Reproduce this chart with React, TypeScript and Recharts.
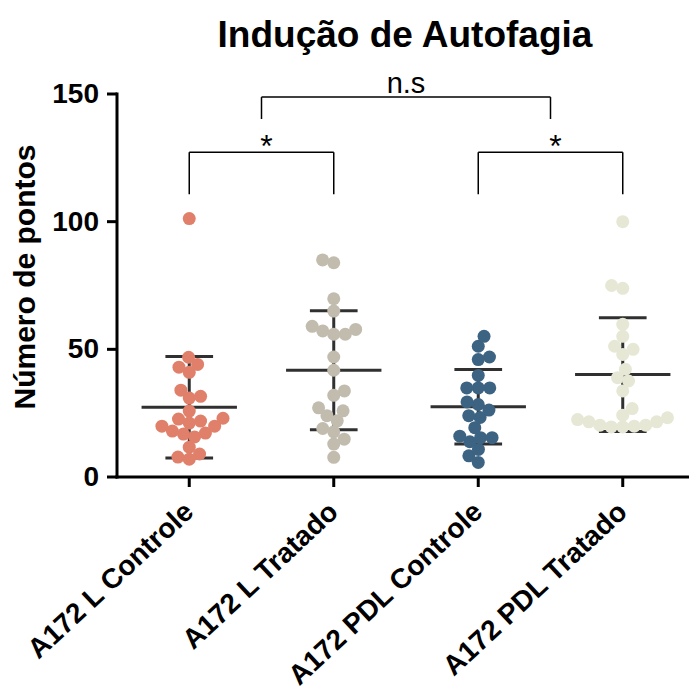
import { ScatterChart, Scatter, XAxis, YAxis, ReferenceLine, ReferenceDot } from "recharts";

const categories = ["A172 L Controle", "A172 L Tratado", "A172 PDL Controle", "A172 PDL Tratado"];
const colors = ["#e0806a", "#c2bcaf", "#3d6382", "#e6e8d5"];

const lControle = [101.2, 46.9, 44.1, 43, 41, 34, 31.6, 30.9, 25.8, 21.9, 22.7, 21.1, 23, 19.9, 19.9, 18, 16.8, 15.7, 17.2, 11.7, 9, 7, 7.8];
const lTratado = [85, 83.9, 69.8, 65, 57.8, 55.9, 55.9, 57.2, 59, 47, 41.8, 33.7, 32, 25.9, 27.1, 24, 22, 17.7, 19, 14.8, 12.9, 7.7];
const pdlControle = [55.1, 51.2, 46, 47, 39.8, 34.9, 34.9, 34.9, 29.4, 26.2, 28.4, 23.3, 24, 19.3, 15.4, 16, 13.8, 15.4, 10.8, 8.3, 5.7];
const pdlTratado = [100, 73.9, 75, 59.8, 55.1, 51.2, 50, 48, 42.2, 38.9, 37.6, 33.7, 26.8, 24.2, 22.5, 21.6, 20.3, 19.6, 19.6, 19.9, 20.3, 21.6, 23.2];

// media e desvio padrão
const means = [27.3, 41.8, 27.5, 40.1];
const sds = [19.9, 23.3, 14.6, 22.3];

const yTicks = [0, 50, 100, 150];
const groups = [lControle, lTratado, pdlControle, pdlTratado];

const comparisons = [
  { from: 0, to: 1, text: "*" },
  { from: 2, to: 3, text: "*" },
  { from: 0.5, to: 2.5, text: "n.s" },
];

const FONT = '"Liberation Sans", Arial, Helvetica, sans-serif';
const W = 700;
const H = 691;
const PX_X = 144.5;
const PX_Y = 382 / 150;
const DOT_R = 6.5;
const GAP = 11.5;
const LINE = "#303030";

// beeswarm simples: cada ponto vai para o lugar livre mais perto do centro
function swarm(values: number[], group: number) {
  const placed: { px: number; py: number }[] = [];
  const out: { x: number; y: number }[] = [];
  const order = values.map((_, i) => i).sort((a, b) => values[a] - values[b]);
  order.forEach((i) => {
    const py = values[i] * PX_Y;
    const blocks: [number, number][] = [];
    placed.forEach((p) => {
      const dy = Math.abs(p.py - py);
      if (dy < GAP) {
        const h = Math.sqrt(GAP * GAP - dy * dy);
        blocks.push([p.px - h, p.px + h]);
      }
    });
    const cands = [0];
    blocks.forEach(([a, b]) => cands.push(a, b));
    const ok = cands.filter((c) => blocks.every(([a, b]) => c <= a + 1e-6 || c >= b - 1e-6));
    const side = placed.length % 2 ? 1 : -1;
    ok.sort((a, b) => Math.abs(a) - Math.abs(b) || side * (a - b));
    const px = ok[0];
    placed.push({ px, py });
    out.push({ x: group + px / PX_X, y: values[i] });
  });
  return out;
}

const XTick = ({ x, y, payload }: any) => (
  <text
    transform={`translate(${x + 6},${y + 25}) rotate(-43)`}
    textAnchor="end"
    fontSize={28}
    fontWeight="bold"
    fontFamily={FONT}
    fill="#000"
  >
    {categories[payload.value]}
  </text>
);

const YTick = ({ x, y, payload }: any) => (
  <text x={x} y={y} dy={9} textAnchor="end" fontSize={28} fontWeight="bold" fontFamily={FONT} fill="#000">
    {payload.value}
  </text>
);

export default function App() {
  const bracketTop = { star: 127.2, ns: 148.8 };
  const bracketLeg = { star: 110.7, ns: 140.2 };

  return (
    <div style={{ position: "absolute", left: 0, top: 0, width: 689, height: 691, overflow: "hidden", background: "#fff" }}>
      <div
        style={{
          position: "absolute",
          left: 0,
          width: 810,
          top: 16,
          textAlign: "center",
          fontFamily: FONT,
          fontWeight: "bold",
          fontSize: 37,
          lineHeight: "37px",
          color: "#000",
        }}
      >
        Indução de Autofagia
      </div>
      <ScatterChart width={W} height={H} margin={{ top: 94, right: 5, bottom: 14, left: 0 }}>
        <XAxis
          type="number"
          dataKey="x"
          domain={[-0.5, 3.5]}
          ticks={[0, 1, 2, 3]}
          interval={0}
          height={200}
          tick={<XTick />}
          tickSize={10}
          axisLine={{ stroke: "#000", strokeWidth: 3, strokeLinecap: "square" }}
          tickLine={{ stroke: "#000", strokeWidth: 3 }}
        />
        <YAxis
          type="number"
          dataKey="y"
          domain={[0, 150]}
          ticks={yTicks}
          interval={0}
          width={117}
          tick={<YTick />}
          tickSize={10}
          tickMargin={8}
          axisLine={{ stroke: "#000", strokeWidth: 3, strokeLinecap: "square" }}
          tickLine={{ stroke: "#000", strokeWidth: 3 }}
          label={{
            content: () => (
              <text
                transform="translate(35,277) rotate(-90)"
                textAnchor="middle"
                fontSize={30}
                fontWeight="bold"
                fontFamily={FONT}
                fill="#000"
              >
                Número de pontos
              </text>
            ),
          }}
        />
        {groups.map((vals, i) => (
          <Scatter
            key={categories[i]}
            data={swarm(vals, i)}
            fill={colors[i]}
            isAnimationActive={false}
            shape={(p: any) => <circle cx={p.cx} cy={p.cy} r={DOT_R} fill={colors[i]} />}
          />
        ))}
        {means.map((m, i) => (
          <ReferenceLine
            key={`m${i}`}
            segment={[{ x: i - 0.33, y: m }, { x: i + 0.33, y: m }]}
            stroke={LINE}
            strokeWidth={3}
          />
        ))}
        {means.map((m, i) => (
          <ReferenceLine
            key={`v${i}`}
            segment={[{ x: i, y: m - sds[i] }, { x: i, y: m + sds[i] }]}
            stroke={LINE}
            strokeWidth={3}
          />
        ))}
        {means.map((m, i) => (
          <ReferenceLine
            key={`t${i}`}
            segment={[{ x: i - 0.165, y: m + sds[i] }, { x: i + 0.165, y: m + sds[i] }]}
            stroke={LINE}
            strokeWidth={3}
          />
        ))}
        {means.map((m, i) => (
          <ReferenceLine
            key={`b${i}`}
            segment={[{ x: i - 0.165, y: m - sds[i] }, { x: i + 0.165, y: m - sds[i] }]}
            stroke={LINE}
            strokeWidth={3}
          />
        ))}
        {comparisons.map((c, k) => {
          const kind = c.text === "*" ? "star" : "ns";
          const top = bracketTop[kind];
          const leg = bracketLeg[kind];
          return [
            <ReferenceLine key={`c${k}a`} segment={[{ x: c.from, y: leg }, { x: c.from, y: top }]} stroke="#000" strokeWidth={1.5} />,
            <ReferenceLine key={`c${k}b`} segment={[{ x: c.from, y: top }, { x: c.to, y: top }]} stroke="#000" strokeWidth={1.5} />,
            <ReferenceLine key={`c${k}c`} segment={[{ x: c.to, y: top }, { x: c.to, y: leg }]} stroke="#000" strokeWidth={1.5} />,
            <ReferenceDot
              key={`c${k}d`}
              x={(c.from + c.to) / 2}
              y={top}
              r={0}
              shape={(p: any) => (
                <text
                  x={p.cx + (kind === "star" ? 5 : 0)}
                  y={p.cy + (kind === "star" ? 5 : -4)}
                  textAnchor="middle"
                  fontSize={kind === "star" ? 32 : 29}
                  fontFamily={FONT}
                  fill="#000"
                >
                  {c.text}
                </text>
              )}
            />,
          ];
        })}
      </ScatterChart>
    </div>
  );
}
